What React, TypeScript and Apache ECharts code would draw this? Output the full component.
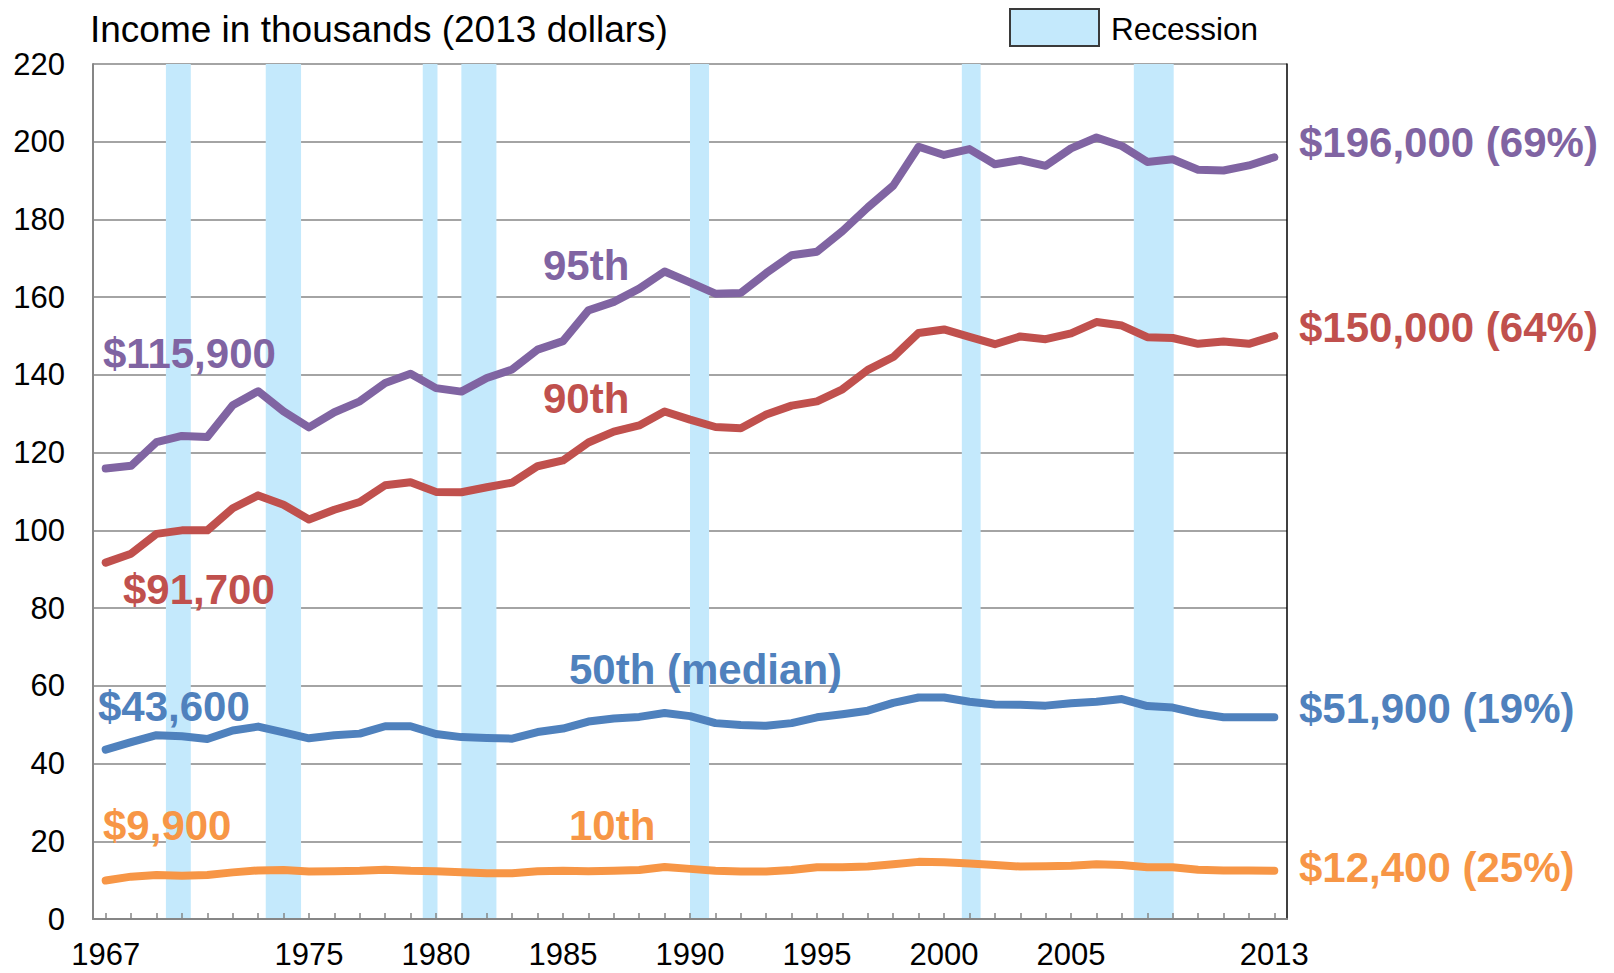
import React, { useEffect, useRef } from "react";
import * as echarts from "echarts";

const years: string[] = Array.from({ length: 47 }, (_, i) => String(1967 + i));
const shownYearLabels = ["1967", "1975", "1980", "1985", "1990", "1995", "2000", "2005", "2013"];
const yTicks = [0, 20, 40, 60, 80, 100, 120, 140, 160, 180, 200, 220];

const p95 = [
  115.9, 116.6, 122.7, 124.3, 124.0, 132.2, 135.8, 130.6, 126.5, 130.4,
  133.2, 137.9, 140.3, 136.6, 135.7, 139.2, 141.4, 146.5, 148.7, 156.6,
  158.8, 162.2, 166.6, 163.8, 160.9, 161.1, 166.2, 170.8, 171.7, 177.0,
  183.1, 188.7, 198.7, 196.6, 198.1, 194.2, 195.3, 193.8, 198.3, 201.1,
  198.9, 194.8, 195.5, 192.8, 192.6, 193.9, 196.0,
];
const p90 = [
  91.7, 94.0, 99.1, 100.0, 100.0, 105.7, 109.0, 106.6, 102.8, 105.3,
  107.3, 111.6, 112.4, 109.9, 109.8, 111.1, 112.3, 116.5, 118.0, 122.6,
  125.4, 127.0, 130.6, 128.5, 126.6, 126.3, 129.8, 132.1, 133.2, 136.3,
  141.3, 144.6, 150.8, 151.7, 149.8, 147.9, 149.9, 149.2, 150.7, 153.6,
  152.7, 149.7, 149.5, 148.0, 148.6, 148.0, 150.0,
];
const p50 = [
  43.6, 45.5, 47.3, 47.0, 46.3, 48.5, 49.5, 48.0, 46.5, 47.3,
  47.7, 49.6, 49.6, 47.6, 46.8, 46.6, 46.4, 48.1, 49.0, 50.8,
  51.6, 52.0, 53.0, 52.2, 50.4, 49.9, 49.7, 50.4, 51.9, 52.7,
  53.6, 55.6, 57.0, 57.0, 55.9, 55.2, 55.1, 54.9, 55.5, 55.9,
  56.6, 54.8, 54.4, 52.9, 51.9, 51.9, 51.9,
];
const p10 = [
  9.9, 10.9, 11.3, 11.1, 11.3, 12.0, 12.5, 12.6, 12.2, 12.3,
  12.4, 12.7, 12.4, 12.3, 12.0, 11.8, 11.8, 12.3, 12.4, 12.3,
  12.4, 12.6, 13.4, 12.9, 12.4, 12.2, 12.2, 12.6, 13.3, 13.3,
  13.5, 14.1, 14.7, 14.6, 14.3, 13.9, 13.5, 13.6, 13.7, 14.1,
  13.9, 13.3, 13.3, 12.7, 12.5, 12.5, 12.4,
];

// Recession periods (fractional year positions)
const recessions: [number, number][] = [
  [1969.37, 1970.35],
  [1973.3, 1974.69],
  [1979.48, 1980.06],
  [1981.0, 1982.38],
  [1990.0, 1990.75],
  [2000.7, 2001.44],
  [2007.47, 2009.04],
];

const seriesNames = ["95th", "90th", "50th (median)", "10th"];
const startLabels = ["$115,900", "$91,700", "$43,600", "$9,900"];
const endLabels = ["$196,000 (69%)", "$150,000 (64%)", "$51,900 (19%)", "$12,400 (25%)"];

const COLORS = ["#8064A2", "#C0504D", "#4F81BD", "#F79646"];
const FONT = '"Liberation Sans", Arial, Helvetica, sans-serif';

export default function App() {
  const ref = useRef<HTMLDivElement>(null);

  useEffect(() => {
    if (!ref.current) return;
    const chart = echarts.init(ref.current, undefined, { renderer: "svg" });

    const allSeries = [p95, p90, p50, p10];

    const lineSeries = allSeries.map((d, i) => ({
      name: seriesNames[i],
      type: "line",
      xAxisIndex: 0,
      yAxisIndex: 0,
      data: d,
      symbol: "none",
      smooth: false,
      z: 5,
      lineStyle: { color: COLORS[i], width: 8, cap: "round", join: "round" },
    }));

    const txt = (text: string, x: number, y: number, color: string, size: number, bold: boolean) => ({
      type: "text",
      x,
      y,
      silent: true,
      z: 20,
      style: {
        text,
        fill: color,
        fontSize: size,
        fontWeight: bold ? "bold" : "normal",
        fontFamily: FONT,
        verticalAlign: "middle",
        align: "left",
      },
    });

    const startPos = [
      [103, 353],
      [123, 589],
      [98, 706],
      [103, 825],
    ];
    const namePos = [
      [543, 265],
      [543, 398],
      [569, 669],
      [569, 825],
    ];
    const endPos = [
      [1299, 142],
      [1299, 327],
      [1299, 708],
      [1299, 867],
    ];

    const graphic: any[] = [
      txt("Income in thousands (2013 dollars)", 90, 29, "#000", 37, false),
      {
        type: "rect",
        shape: { x: 1010, y: 9, width: 89, height: 37 },
        style: { fill: "#C4E9FC", stroke: "#3a3a3a", lineWidth: 2 },
        z: 20,
      },
      txt("Recession", 1111, 29, "#000", 31.5, false),
    ];
    for (let i = 0; i < 4; i++) {
      graphic.push(txt(startLabels[i], startPos[i][0], startPos[i][1], COLORS[i], 42, true));
      graphic.push(txt(seriesNames[i], namePos[i][0], namePos[i][1], COLORS[i], 42, true));
      graphic.push(txt(endLabels[i], endPos[i][0], endPos[i][1], COLORS[i], 42, true));
    }

    const option: any = {
      animation: false,
      backgroundColor: "#ffffff",
      grid: { left: 93, right: 327, top: 64, bottom: 54, containLabel: false },
      xAxis: [
        {
          type: "category",
          data: years,
          boundaryGap: true,
          z: 10,
          axisLine: { show: true, lineStyle: { color: "#868686", width: 2 } },
          axisTick: {
            show: true,
            inside: true,
            length: 6,
            interval: 0,
            alignWithLabel: true,
            lineStyle: { color: "#868686", width: 1.5 },
          },
          axisLabel: {
            interval: (_idx: number, val: string) => shownYearLabels.includes(val),
            fontSize: 31,
            fontFamily: FONT,
            color: "#000",
            margin: 20,
          },
          splitLine: { show: false },
        },
        {
          type: "value",
          min: 1966.5,
          max: 2013.5,
          show: false,
        },
      ],
      yAxis: [
        {
          type: "value",
          min: 0,
          max: 220,
          interval: 20,
          axisLine: { show: true, lineStyle: { color: "#868686", width: 2 } },
          axisTick: { show: false },
          axisLabel: {
            fontSize: 31,
            fontFamily: FONT,
            color: "#000",
            margin: 28,
            formatter: (v: number) => (yTicks.includes(v) ? String(v) : ""),
          },
          splitLine: { show: true, lineStyle: { color: "#868686", width: 1.5 } },
        },
        {
          type: "value",
          position: "right",
          min: 0,
          max: 220,
          interval: 20,
          axisLine: { show: true, lineStyle: { color: "#000", width: 1.5 } },
          axisTick: { show: false },
          axisLabel: { show: false },
          splitLine: { show: false },
        },
      ],
      series: [
        {
          name: "Recession",
          type: "custom",
          xAxisIndex: 1,
          yAxisIndex: 0,
          z: 1,
          silent: true,
          encode: { x: [0, 1] },
          data: recessions,
          renderItem: (_params: any, api: any) => {
            const p0 = api.coord([api.value(0), 220]);
            const p1 = api.coord([api.value(1), 0]);
            return {
              type: "rect",
              shape: { x: p0[0], y: p0[1], width: p1[0] - p0[0], height: p1[1] - p0[1] },
              style: { fill: "#C4E9FC" },
            };
          },
        },
        ...lineSeries,
      ],
      graphic,
    };

    chart.setOption(option);
    return () => chart.dispose();
  }, []);

  return (
    <div
      ref={ref}
      style={{ position: "fixed", left: 0, top: 0, width: "1614px", height: "973px", background: "#fff" }}
    />
  );
}
